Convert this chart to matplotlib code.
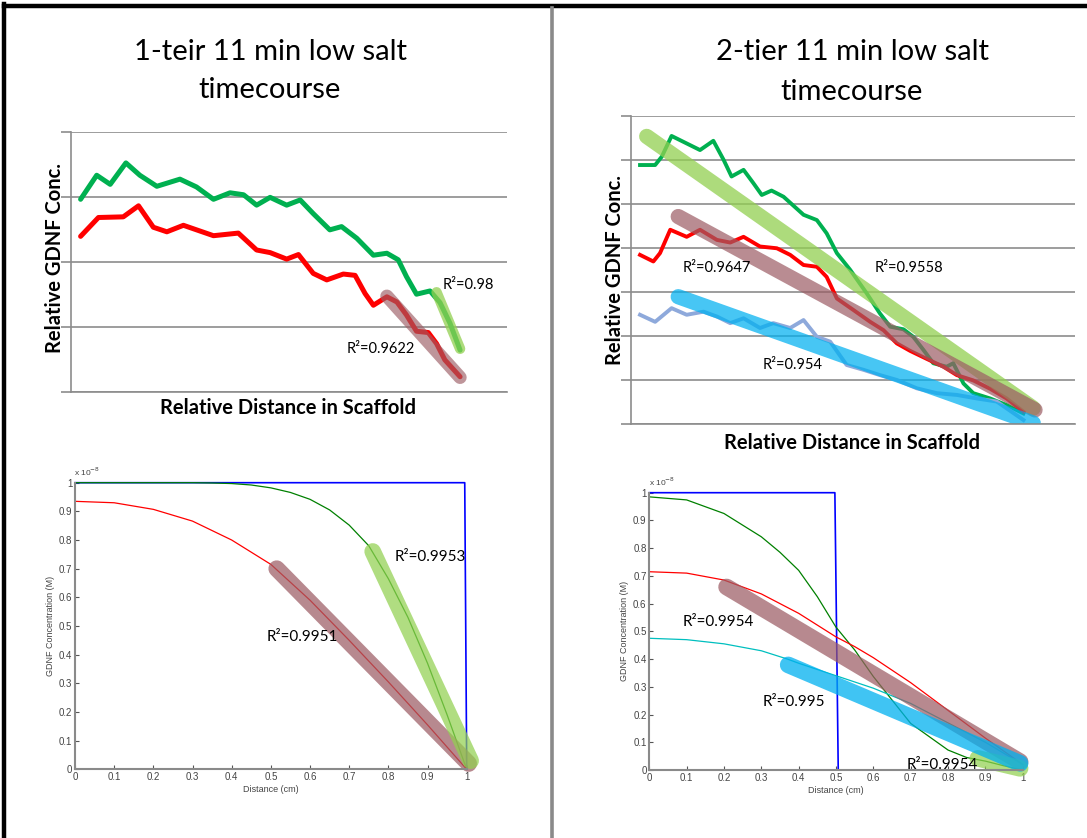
import matplotlib
matplotlib.use("Agg")
import matplotlib.pyplot as plt
from matplotlib.lines import Line2D
import numpy as np

W, H = 1087, 838
plt.rcParams['font.family'] = ['Lato', 'DejaVu Sans']

# ---------------- data ----------------
# Top-left: 1-tier experimental profiles (relative units)
tl_green_x = [0.022, 0.059, 0.090, 0.126, 0.158, 0.197, 0.250, 0.288, 0.327, 0.365, 0.396, 0.426,
              0.457, 0.495, 0.526, 0.556, 0.594, 0.621, 0.656, 0.694, 0.725, 0.751, 0.770, 0.793,
              0.824, 0.847, 0.870, 0.893]
tl_green_y = [2.96, 3.33, 3.19, 3.52, 3.33, 3.16, 3.27, 3.15, 2.96, 3.06, 3.03, 2.87,
              2.99, 2.87, 2.95, 2.74, 2.49, 2.54, 2.36, 2.10, 2.13, 2.03, 1.77, 1.50,
              1.55, 1.37, 1.05, 0.64]
tl_red_x = [0.022, 0.063, 0.120, 0.155, 0.189, 0.220, 0.258, 0.327, 0.384, 0.426, 0.457, 0.495,
            0.522, 0.556, 0.587, 0.625, 0.652, 0.675, 0.694, 0.725, 0.748, 0.770, 0.793, 0.820,
            0.839, 0.858, 0.893]
tl_red_y = [2.39, 2.68, 2.69, 2.86, 2.53, 2.46, 2.56, 2.40, 2.44, 2.18, 2.14, 2.04,
            2.11, 1.82, 1.72, 1.81, 1.79, 1.51, 1.33, 1.46, 1.38, 1.18, 0.93, 0.91,
            0.74, 0.49, 0.23]
tl_fit_red_x, tl_fit_red_y = [0.725, 0.893], [1.47, 0.22]
tl_fit_green_x, tl_fit_green_y = [0.839, 0.893], [1.53, 0.66]

# Top-right: 2-tier experimental profiles
tr_green_x = [0.021, 0.055, 0.070, 0.092, 0.126, 0.156, 0.186, 0.209, 0.227, 0.254, 0.276, 0.295,
              0.317, 0.344, 0.389, 0.419, 0.441, 0.464, 0.494, 0.531, 0.561, 0.584, 0.614, 0.636,
              0.659, 0.681, 0.711, 0.726, 0.749, 0.771, 0.809, 0.846, 0.884]
tr_green_y = [5.88, 5.88, 6.07, 6.54, 6.37, 6.22, 6.43, 6.00, 5.62, 5.77, 5.47, 5.20,
              5.30, 5.16, 4.75, 4.63, 4.33, 3.88, 3.50, 2.97, 2.51, 2.21, 2.15, 1.98,
              1.68, 1.38, 1.30, 1.38, 0.92, 0.70, 0.58, 0.43, 0.24]
tr_red_x = [0.021, 0.051, 0.066, 0.089, 0.126, 0.156, 0.194, 0.224, 0.254, 0.291, 0.329, 0.359,
            0.389, 0.419, 0.441, 0.464, 0.501, 0.539, 0.569, 0.599, 0.629, 0.666, 0.704, 0.734,
            0.771, 0.809, 0.846, 0.884]
tr_red_y = [3.84, 3.69, 3.88, 4.41, 4.25, 4.41, 4.18, 4.12, 4.25, 4.03, 3.99, 3.84,
            3.61, 3.57, 3.34, 2.85, 2.59, 2.32, 2.13, 1.83, 1.66, 1.48, 1.30, 1.11,
            0.99, 0.80, 0.58, 0.28]
tr_blue_x = [0.021, 0.055, 0.092, 0.126, 0.164, 0.194, 0.224, 0.254, 0.291, 0.321, 0.359, 0.389,
             0.419, 0.449, 0.486, 0.524, 0.561, 0.599, 0.644, 0.689, 0.734, 0.779, 0.824, 0.884]
tr_blue_y = [2.48, 2.32, 2.63, 2.48, 2.55, 2.44, 2.29, 2.40, 2.18, 2.29, 2.18, 2.36,
             1.98, 1.87, 1.34, 1.23, 1.11, 1.00, 0.81, 0.70, 0.66, 0.58, 0.51, 0.09]
tr_fit_green_x, tr_fit_green_y = [0.036, 0.906], [6.53, 0.36]
tr_fit_red_x, tr_fit_red_y = [0.107, 0.910], [4.71, 0.32]
tr_fit_blue_x, tr_fit_blue_y = [0.107, 0.906], [2.89, 0.02]

# Bottom-left: 1-tier model (x 1e-8 M)
bl_blue_x, bl_blue_y = [0.0, 0.995, 1.0], [1.0, 1.0, 0.0]
bl_green_x = [0, 0.1, 0.2, 0.3, 0.35, 0.4, 0.45, 0.5, 0.55, 0.6, 0.65, 0.7, 0.75, 0.8, 0.85, 0.9, 0.95, 1.0]
bl_green_y = [1.0, 1.0, 1.0, 1.0, 0.999, 0.997, 0.992, 0.982, 0.966, 0.942, 0.905, 0.852, 0.78,
              0.665, 0.53, 0.37, 0.19, 0.0]
bl_red_x = [0, 0.1, 0.2, 0.3, 0.4, 0.5, 0.6, 0.7, 0.8, 0.9, 1.0]
bl_red_y = [0.935, 0.93, 0.907, 0.866, 0.80, 0.715, 0.59, 0.45, 0.305, 0.155, 0.0]
bl_fit_red_x, bl_fit_red_y = [0.515, 1.005], [0.70, 0.02]
bl_fit_green_x, bl_fit_green_y = [0.76, 1.01], [0.76, 0.03]

# Bottom-right: 2-tier model
br_blue_x, br_blue_y = [0.0, 0.497, 0.506, 1.0], [1.0, 1.0, 0.0, 0.0]
br_green_x = [0, 0.1, 0.2, 0.3, 0.35, 0.4, 0.45, 0.5, 0.55, 0.6, 0.7, 0.8, 0.85, 0.9, 0.95, 1.0]
br_green_y = [0.985, 0.974, 0.925, 0.841, 0.785, 0.72, 0.625, 0.515, 0.433, 0.337, 0.168, 0.072,
              0.045, 0.032, 0.015, 0.0]
br_red_x = [0, 0.1, 0.2, 0.3, 0.4, 0.5, 0.55, 0.6, 0.7, 0.8, 0.9, 1.0]
br_red_y = [0.715, 0.71, 0.685, 0.635, 0.565, 0.48, 0.445, 0.405, 0.315, 0.215, 0.115, 0.02]
br_cyan_x = [0, 0.1, 0.2, 0.3, 0.37, 0.4, 0.5, 0.6, 0.7, 0.8, 0.9, 1.0]
br_cyan_y = [0.475, 0.47, 0.455, 0.43, 0.40, 0.385, 0.34, 0.295, 0.24, 0.17, 0.10, 0.02]
br_fit_red_x, br_fit_red_y = [0.207, 0.993], [0.66, 0.03]
br_fit_blue_x, br_fit_blue_y = [0.372, 0.993], [0.379, 0.024]
br_fit_green_x, br_fit_green_y = [0.88, 0.993], [0.042, 0.006]

model_ticks = [0, 0.1, 0.2, 0.3, 0.4, 0.5, 0.6, 0.7, 0.8, 0.9, 1]
model_ticklabels = ['0', '0.1', '0.2', '0.3', '0.4', '0.5', '0.6', '0.7', '0.8', '0.9', '1']

title_lines = [("1-teir 11 min low salt", "timecourse"), ("2-tier 11 min low salt", "timecourse")]

# ---------------- colours ----------------
C_GREEN = '#00B050'
C_RED = '#FF0000'
C_STEEL = '#8EA9DB'
FIT_GREEN = '#92D050'
FIT_BROWN = '#9C5C64'
FIT_BLUE = '#00B0F0'
GRID = '#8C8C8C'
MFONT = ['Liberation Sans', 'DejaVu Sans']

fig = plt.figure(figsize=(W / 100, H / 100), dpi=100)
fig.patch.set_facecolor('white')


def px_axes(x0, y0, x1, y1):
    return fig.add_axes([x0 / W, 1 - y1 / H, (x1 - x0) / W, (y1 - y0) / H])


def ftext(x, y, s, **kw):
    fig.text(x / W, 1 - y / H, s, **kw)


# borders
fig.add_artist(Line2D([4 / W, 4 / W], [0, 1 - 4 / H], transform=fig.transFigure, color='black', lw=3.2))
fig.add_artist(Line2D([4 / W, 1], [1 - 6 / H, 1 - 6 / H], transform=fig.transFigure, color='black', lw=3.2))
fig.add_artist(Line2D([552 / W, 552 / W], [0, 1 - 8 / H], transform=fig.transFigure, color='#8A8A8A', lw=2.6))

# titles
ftext(270, 52, title_lines[0][0], ha='center', va='center', fontsize=21)
ftext(270, 90, title_lines[0][1], ha='center', va='center', fontsize=21)
ftext(852, 52, title_lines[1][0], ha='center', va='center', fontsize=21)
ftext(852, 92, title_lines[1][1], ha='center', va='center', fontsize=21)


def style_excel(ax, nlines):
    ax.set_xlim(0, 1)
    ax.set_ylim(0, nlines)
    ax.set_yticks(range(nlines + 1))
    ax.set_yticklabels([])
    ax.set_xticks([])
    ax.tick_params(axis='y', length=7, width=1.2, color=GRID, direction='out')
    ax.grid(axis='y', color=GRID, lw=1.2)
    for s in ['top', 'right']:
        ax.spines[s].set_visible(False)
    ax.spines['left'].set_color(GRID)
    ax.spines['bottom'].set_color(GRID)
    ax.spines['left'].set_linewidth(1.2)
    ax.spines['bottom'].set_linewidth(1.2)
    ax.set_facecolor('none')
    ax.set_axisbelow(True)


# ---------- top-left ----------
ax1 = px_axes(71, 131.7, 506.7, 391.7)
style_excel(ax1, 4)
ax1.plot(tl_green_x, tl_green_y, color=C_GREEN, lw=3.6, solid_joinstyle='round', solid_capstyle='round')
ax1.plot(tl_red_x, tl_red_y, color=C_RED, lw=3.6, solid_joinstyle='round', solid_capstyle='round')
ax1.plot(tl_fit_red_x, tl_fit_red_y, color=FIT_BROWN, alpha=0.65, lw=9.5, solid_capstyle='round')
ax1.plot(tl_fit_green_x, tl_fit_green_y, color=FIT_GREEN, alpha=0.75, lw=7.5, solid_capstyle='round')
ftext(55, 258, "Relative GDNF Conc.", fontsize=14.5, fontweight='bold', rotation=90, ha='center', va='center')
ftext(288, 408, "Relative Distance in Scaffold", fontsize=14.5, fontweight='bold', ha='center', va='center')
ftext(443, 285, "R²=0.98", fontsize=10.5, va='center')
ftext(347, 349, "R²=0.9622", fontsize=10.5, va='center')

# ---------- top-right ----------
ax2 = px_axes(630.7, 115.7, 1075, 424)
style_excel(ax2, 7)
ax2.plot(tr_green_x, tr_green_y, color=C_GREEN, lw=2.8, solid_joinstyle='round')
ax2.plot(tr_red_x, tr_red_y, color=C_RED, lw=2.8, solid_joinstyle='round')
ax2.plot(tr_blue_x, tr_blue_y, color=C_STEEL, lw=2.8, solid_joinstyle='round')
ax2.plot(tr_fit_green_x, tr_fit_green_y, color=FIT_GREEN, alpha=0.75, lw=11, solid_capstyle='round')
ax2.plot(tr_fit_red_x, tr_fit_red_y, color=FIT_BROWN, alpha=0.7, lw=11, solid_capstyle='round')
ax2.plot(tr_fit_blue_x, tr_fit_blue_y, color=FIT_BLUE, alpha=0.72, lw=11, solid_capstyle='round')
ftext(615, 270, "Relative GDNF Conc.", fontsize=14.5, fontweight='bold', rotation=90, ha='center', va='center')
ftext(852, 443, "Relative Distance in Scaffold", fontsize=14.5, fontweight='bold', ha='center', va='center')
ftext(683, 268, "R²=0.9647", fontsize=10.5, va='center')
ftext(875, 268, "R²=0.9558", fontsize=10.5, va='center')
ftext(763, 365, "R²=0.954", fontsize=10.5, va='center')


def style_matlab(ax):
    ax.set_xlim(0, 1)
    ax.set_ylim(0, 1)
    ax.set_xticks(model_ticks)
    ax.set_xticklabels(model_ticklabels)
    ax.set_yticks(model_ticks)
    ax.set_yticklabels(model_ticklabels)
    ax.tick_params(direction='in', length=3, width=0.8, color='#555555', labelsize=7,
                   labelcolor='#444444', pad=2)
    for s in ['top', 'right']:
        ax.spines[s].set_visible(False)
    for s in ['left', 'bottom']:
        ax.spines[s].set_color('#8A8A8A')
        ax.spines[s].set_linewidth(1.5)
    ax.set_facecolor('none')
    for lab in ax.get_xticklabels() + ax.get_yticklabels():
        lab.set_family(MFONT)


# ---------- bottom-left ----------
ax3 = px_axes(75, 482.7, 466.7, 769.3)
style_matlab(ax3)
ax3.plot(bl_blue_x, bl_blue_y, color='#0000FF', lw=1.2, clip_on=False)
ax3.plot(bl_green_x, bl_green_y, color='#008000', lw=0.9, clip_on=False)
ax3.plot(bl_red_x, bl_red_y, color='#FF0000', lw=0.9, clip_on=False)
ax3.plot(bl_fit_red_x, bl_fit_red_y, color=FIT_BROWN, alpha=0.72, lw=12, solid_capstyle='round', clip_on=False)
ax3.plot(bl_fit_green_x, bl_fit_green_y, color=FIT_GREEN, alpha=0.72, lw=12, solid_capstyle='round', clip_on=False)
ax3.set_xlabel("Distance (cm)", fontsize=6.5, color='#444444', labelpad=2, family=MFONT)
ax3.set_ylabel("GDNF Concentration (M)", fontsize=6.5, color='#444444', labelpad=3, family=MFONT)
ftext(74, 472, "x 10$^{-8}$", fontsize=6, color='#444444', va='center', family=MFONT)
ftext(395, 557, "R²=0.9953", fontsize=11, va='center')
ftext(267, 637, "R²=0.9951", fontsize=11, va='center')

# ---------- bottom-right ----------
ax4 = px_axes(649.3, 492.7, 1022.7, 770)
style_matlab(ax4)
ax4.plot(br_blue_x, br_blue_y, color='#0000FF', lw=1.2, clip_on=False)
ax4.plot(br_green_x, br_green_y, color='#008000', lw=0.9, clip_on=False)
ax4.plot(br_red_x, br_red_y, color='#FF0000', lw=0.9, clip_on=False)
ax4.plot(br_cyan_x, br_cyan_y, color='#00BFBF', lw=0.9, clip_on=False)
ax4.plot(br_fit_red_x, br_fit_red_y, color=FIT_BROWN, alpha=0.72, lw=12, solid_capstyle='round', clip_on=False)
ax4.plot(br_fit_green_x, br_fit_green_y, color=FIT_GREEN, alpha=0.72, lw=12, solid_capstyle='round', clip_on=False)
ax4.plot(br_fit_blue_x, br_fit_blue_y, color=FIT_BLUE, alpha=0.75, lw=12, solid_capstyle='round', clip_on=False)
ax4.set_xlabel("Distance (cm)", fontsize=6.5, color='#444444', labelpad=2, family=MFONT)
ax4.set_ylabel("GDNF Concentration (M)", fontsize=6.5, color='#444444', labelpad=3, family=MFONT)
ftext(649, 482, "x 10$^{-8}$", fontsize=6, color='#444444', va='center', family=MFONT)
ftext(683, 622, "R²=0.9954", fontsize=11, va='center')
ftext(763, 702, "R²=0.995", fontsize=11, va='center')
ftext(907, 765, "R²=0.9954", fontsize=11, va='center')

fig.savefig("out.png", dpi=100, facecolor='white')
